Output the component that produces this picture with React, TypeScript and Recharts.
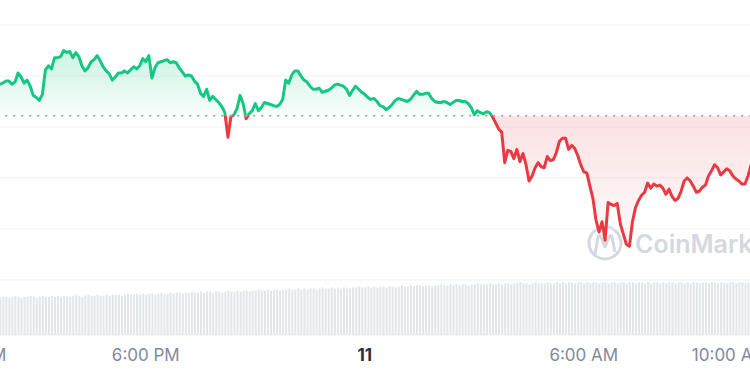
import { ComposedChart, Area, Bar, XAxis, YAxis, CartesianGrid, ReferenceLine } from 'recharts'

// 5-minute samples, first one at 13:55 (hours since midnight of day 10)
const START_HOUR = 13 + 55 / 60
const STEP_HOUR = 5 / 60
const DOMAIN: [number, number] = [12 + 25 / 60, 36 + 25 / 60]

const OPEN_PRICE = 17311

const prices = [
  17340, 17342, 17343, 17345, 17345, 17342, 17344, 17353, 17349, 17343,
  17346, 17340, 17331, 17329, 17326, 17332, 17356, 17360, 17357, 17368,
  17368, 17369, 17375, 17373, 17374, 17368, 17373, 17369, 17360, 17355,
  17358, 17364, 17366, 17370, 17365, 17359, 17355, 17352, 17346, 17349,
  17353, 17353, 17355, 17353, 17356, 17359, 17357, 17360, 17367, 17364,
  17370, 17348, 17358, 17363, 17364, 17365, 17366, 17363, 17364, 17363,
  17358, 17354, 17350, 17351, 17350, 17345, 17342, 17333, 17330, 17337,
  17326, 17330, 17327, 17324, 17320, 17314, 17290, 17310, 17312, 17318,
  17331, 17323, 17308, 17313, 17316, 17323, 17316, 17319, 17324, 17323,
  17322, 17321, 17320, 17322, 17327, 17346, 17343, 17351, 17355, 17355,
  17350, 17346, 17344, 17340, 17337, 17337, 17338, 17334, 17335, 17336,
  17338, 17341, 17342, 17341, 17340, 17337, 17331, 17336, 17340, 17337,
  17334, 17332, 17329, 17327, 17328, 17325, 17321, 17320, 17317, 17319,
  17322, 17326, 17328, 17327, 17326, 17325, 17327, 17331, 17335, 17332,
  17332, 17333, 17333, 17328, 17325, 17324, 17324, 17325, 17324, 17322,
  17324, 17326, 17326, 17325, 17325, 17323, 17319, 17312, 17316, 17314,
  17313, 17315, 17314, 17310, 17304, 17298, 17295, 17265, 17277, 17276,
  17269, 17278, 17266, 17274, 17263, 17247, 17252, 17260, 17265, 17261,
  17260, 17271, 17267, 17268, 17275, 17286, 17289, 17289, 17278, 17282,
  17279, 17272, 17263, 17256, 17255, 17242, 17230, 17209, 17197, 17207,
  17189, 17226, 17224, 17223, 17225, 17205, 17195, 17185, 17183, 17207,
  17221, 17228, 17233, 17236, 17245, 17240, 17244, 17242, 17243, 17240,
  17234, 17239, 17232, 17228, 17230, 17237, 17247, 17250, 17247, 17242,
  17236, 17237, 17241, 17243, 17252, 17257, 17263, 17260, 17253, 17256,
  17259, 17257, 17252, 17249, 17247, 17244, 17244, 17252, 17263,
]

const volumes = [
  37, 36, 37, 37, 36, 37, 38, 37, 36, 37, 37, 38, 37, 36, 37, 38, 37, 37, 38, 37,
  38, 37, 38, 38, 37, 38, 39, 38, 37, 38, 39, 38, 38, 39, 38, 38, 39, 38, 39, 39,
  39, 38, 39, 40, 39, 39, 40, 39, 40, 39, 40, 40, 39, 40, 41, 40, 40, 41, 40, 41,
  41, 40, 41, 41, 42, 41, 41, 42, 41, 42, 42, 41, 42, 42, 41, 42, 43, 42, 42, 43,
  42, 43, 43, 42, 43, 43, 44, 43, 43, 44, 43, 44, 44, 43, 44, 44, 45, 44, 44, 45,
  44, 45, 44, 45, 45, 44, 45, 46, 45, 45, 46, 45, 46, 45, 46, 46, 45, 46, 46, 47,
  46, 46, 47, 46, 47, 46, 47, 47, 46, 47, 47, 46, 47, 48, 47, 47, 48, 47, 48, 48,
  47, 48, 48, 47, 48, 48, 49, 48, 48, 49, 48, 49, 48, 49, 49, 48, 49, 49, 50, 49,
  49, 49, 50, 49, 49, 50, 49, 50, 50, 49, 50, 50, 51, 50, 50, 49, 50, 51, 50, 50,
  50, 51, 50, 50, 51, 50, 51, 50, 51, 51, 50, 51, 51, 50, 51, 50, 51, 51, 50, 51,
  51, 50, 51, 51, 50, 51, 51, 50, 51, 51, 50, 51, 51, 50, 51, 50, 51, 51, 50, 51,
  50, 51, 51, 50, 51, 51, 50, 51, 50, 51, 51, 50, 51, 51, 50, 51, 51, 50, 51, 51,
  50, 51, 51, 50, 51, 51, 50, 51, 51,
]

const priceTicks = [17150, 17200, 17250, 17300, 17350, 17400]
const tickHours = [DOMAIN[0], 18, 24, 30, 34]
const tickLabels = ['1:00 PM', '6:00 PM', '11', '6:00 AM', '10:00 AM']

const GREEN = '#16c784'
const RED = '#ea3943'

const data = prices.map((price, i) => ({
  t: START_HOUR + i * STEP_HOUR,
  price,
  volume: volumes[i],
}))

const hi = Math.max(...prices)
const lo = Math.min(...prices)
const split = (hi - OPEN_PRICE) / (hi - lo)

function TimeTick(props: any) {
  const { x, y, payload } = props
  const idx = tickHours.indexOf(payload.value)
  const label = tickLabels[idx]
  const isDay = label === '11'
  return (
    <text
      x={x}
      y={y}
      dy={18}
      textAnchor={idx === 0 ? 'start' : 'middle'}
      fontSize={17}
      fontWeight={isDay ? 700 : 400}
      fill={isDay ? '#2b2f3a' : '#808a9d'}
      fontFamily="Inter, sans-serif"
    >
      {label}
    </text>
  )
}

function Watermark() {
  return (
    <svg width={180} height={44} style={{ position: 'absolute', left: 586, top: 222 }}>
      <circle cx={19} cy={21} r={16} fill="none" stroke="#d3d8e1" strokeWidth={3} />
      <path d="M9 32 L12 15 Q13 12 15 15 L19 25 L23 15 Q25 12 26 15 L29 30" fill="none" stroke="#d3d8e1" strokeWidth={3} strokeLinejoin="round" />
      <text x={49} y={31} fontSize={25} fontWeight={600} fill="#d3d8e1" fontFamily="Inter, sans-serif">
        CoinMarketCap
      </text>
    </svg>
  )
}

export default function App() {
  return (
    <div
      style={{
        position: 'absolute',
        left: 0,
        top: 0,
        width: 750,
        height: 375,
        overflow: 'hidden',
        background: '#fff',
      }}
    >
      <Watermark />
      <div style={{ position: 'absolute', left: -58, top: 0 }}>
        <ComposedChart width={876} height={375} data={data} margin={{ top: 25, right: 0, bottom: 0, left: 0 }}>
          <defs>
            <linearGradient id="lineSplit" x1="0" y1="0" x2="0" y2="1">
              <stop offset={0} stopColor={GREEN} />
              <stop offset={split} stopColor={GREEN} />
              <stop offset={split} stopColor={RED} />
              <stop offset={1} stopColor={RED} />
            </linearGradient>
            <linearGradient id="fillSplit" x1="0" y1="0" x2="0" y2="1">
              <stop offset={0} stopColor={GREEN} stopOpacity={0.22} />
              <stop offset={split} stopColor={GREEN} stopOpacity={0.03} />
              <stop offset={split} stopColor={RED} stopOpacity={0.15} />
              <stop offset={1} stopColor={RED} stopOpacity={0.02} />
            </linearGradient>
          </defs>
          <CartesianGrid yAxisId="price" vertical={false} stroke="#eff1f4" />
          <XAxis
            dataKey="t"
            type="number"
            domain={DOMAIN}
            ticks={tickHours}
            interval={0}
            height={40}
            axisLine={false}
            tickLine={false}
            tick={<TimeTick />}
          />
          <YAxis yAxisId="price" domain={[17096, 17400]} ticks={priceTicks} hide />
          <YAxis yAxisId="vol" domain={[0, 300]} hide />
          <Bar yAxisId="vol" dataKey="volume" barSize={2} fill="#e2e5ea" isAnimationActive={false} />
          <ReferenceLine
            yAxisId="price"
            y={OPEN_PRICE}
            stroke="#a7b0c0"
            strokeWidth={2}
            strokeDasharray="0.5 7.5"
            strokeLinecap="round"
          />
          <Area
            yAxisId="price"
            type="linear"
            dataKey="price"
            baseValue={OPEN_PRICE}
            stroke="url(#lineSplit)"
            strokeWidth={3}
            strokeLinejoin="round"
            fill="url(#fillSplit)"
            fillOpacity={1}
            dot={false}
            activeDot={false}
            isAnimationActive={false}
          />
        </ComposedChart>
      </div>
    </div>
  )
}
